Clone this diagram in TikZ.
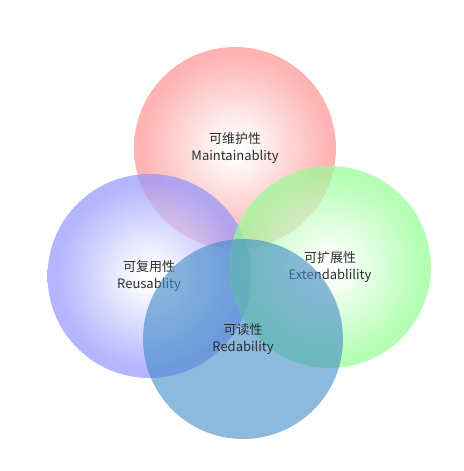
\documentclass[tikz,border=0pt]{standalone}
\usepackage{fontspec}
\newfontfamily\cjk{Noto Sans CJK SC}
\definecolor{maintred}{RGB}{255,148,148}
\definecolor{reuseblue}{RGB}{148,148,255}
\definecolor{extgreen}{RGB}{148,255,148}
\definecolor{readblue}{RGB}{63,138,197}
\definecolor{labelgray}{RGB}{45,45,45}
\pgfdeclareradialshading{halored}{\pgfpoint{0bp}{0bp}}{color(0bp)=(white); color(2bp)=(white); color(23bp)=(maintred); color(50bp)=(maintred)}
\pgfdeclareradialshading{haloblue}{\pgfpoint{0bp}{0bp}}{color(0bp)=(white); color(2bp)=(white); color(23bp)=(reuseblue); color(50bp)=(reuseblue)}
\pgfdeclareradialshading{halogreen}{\pgfpoint{0bp}{0bp}}{color(0bp)=(white); color(2bp)=(white); color(23bp)=(extgreen); color(50bp)=(extgreen)}
\tikzset{
  lbl/.style={align=center, text=labelgray, font={\cjk\fontsize{13}{16.5}\selectfont}},
  halo/.style={opacity=0.7}
}
\begin{document}
\begin{tikzpicture}[x=1pt,y=-1pt]
        \useasboundingbox (0,0) rectangle (463,471);
        \shade[halo,shading=halored] (235,148) circle (101pt);
        \node[lbl] (maint) at (235,148) {可维护性\\Maintainablity};
        \shade[halo,shading=haloblue] (149.5,276) circle (102pt);
        \node[lbl] (reuse) at (149,276) {可复用性\\Reusablity};
        \shade[halo,shading=halogreen] (330,267) circle (101pt);
        \node[lbl] (ext) at (330,267) {可扩展性\\Extendablility};
        \fill[readblue,opacity=0.6] (243,339) circle (100pt);
        \node[lbl] (read) at (243,339) {可读性\\Redability};
\end{tikzpicture}
\end{document}
